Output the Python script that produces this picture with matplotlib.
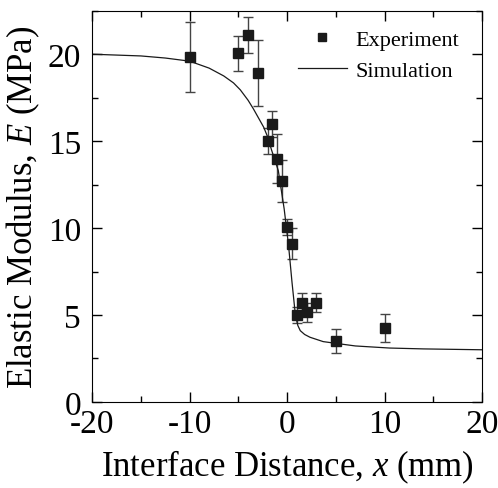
import matplotlib
matplotlib.use("Agg")
import matplotlib.pyplot as plt
from matplotlib.ticker import MultipleLocator

plt.rcParams['font.family'] = 'Liberation Serif'
plt.rcParams['mathtext.fontset'] = 'custom'
plt.rcParams['mathtext.rm'] = 'Liberation Serif'
plt.rcParams['mathtext.it'] = 'Liberation Serif:italic'

# experiment
exp_x = [-10, -5, -4, -3, -2, -1.5, -1, -0.5, 0, 0.5, 1, 1.5, 2, 3, 5, 10]
exp_y = [19.85, 20.05, 21.1, 18.9, 15.0, 16.0, 14.0, 12.7, 10.05, 9.1, 5.0, 5.7, 5.15, 5.7, 3.5, 4.25]
exp_err = [2.0, 1.0, 1.05, 1.9, 0.75, 0.75, 1.4, 1.2, 0.45, 0.9, 0.45, 0.55, 0.55, 0.55, 0.7, 0.83]

# simulation curve
sim_x = [-20, -15, -12.5, -10, -8, -6.5, -5.5, -4.8, -4, -3.45, -3, -2.4, -2, -1.6, -0.9,
         -0.3, 0.15, 0.5, 0.85, 1.1, 1.35, 1.8, 2.35, 3.7, 5, 7, 10.5, 14, 20]
sim_y = [20.0, 19.9, 19.78, 19.6, 19.2, 18.75, 18.35, 17.95, 17.35, 16.85, 16.4, 15.8, 15.25,
         14.5, 13.3, 11.1, 9.0, 6.9, 5.0, 4.4, 4.1, 3.88, 3.72, 3.47, 3.37, 3.22, 3.1, 3.05, 3.0]

fig = plt.figure(figsize=(4.98, 4.89), dpi=100)
ax = fig.add_axes([0.185, 0.176, 0.783, 0.8])

ax.errorbar(exp_x, exp_y, yerr=exp_err, fmt='none', ecolor='#444444',
            elinewidth=1, capsize=3.5, capthick=1, zorder=2)
pts, = ax.plot(exp_x, exp_y, 's', color='#1a1a1a', ms=6.5, zorder=3, label='Experiment')
sim, = ax.plot(sim_x, sim_y, '-', color='#1a1a1a', lw=0.9, label='Simulation')

ax.set_xlim(-20, 20)
ax.set_ylim(0, 22.5)
ax.xaxis.set_minor_locator(MultipleLocator(5))
ax.yaxis.set_major_locator(MultipleLocator(5))
ax.yaxis.set_minor_locator(MultipleLocator(2.5))
ax.tick_params(which='both', direction='in', top=True, right=True, labelsize=24, width=1)
ax.tick_params(which='major', length=7)
ax.tick_params(which='minor', length=4)
ax.tick_params(axis='x', which='major', pad=5)
ax.tick_params(axis='y', which='major', pad=8)
ax.set_xticks([-20, -10, 0, 10, 20])
ax.set_xticklabels(['-20', '-10', '0', '10', '20'])

ax.set_xlabel('Interface Distance, $x$ (mm)', fontsize=25, labelpad=6)
ax.set_ylabel('Elastic Modulus, $E$ (MPa)', fontsize=25, labelpad=4)

ax.legend([pts, sim], ['Experiment', 'Simulation'], loc='upper right', frameon=False,
          fontsize=16, handlelength=2.2, handletextpad=0.4, labelspacing=0.45,
          borderaxespad=0.0, bbox_to_anchor=(0.965, 0.975), markerscale=0.85)

fig.savefig('out.png', dpi=100)
